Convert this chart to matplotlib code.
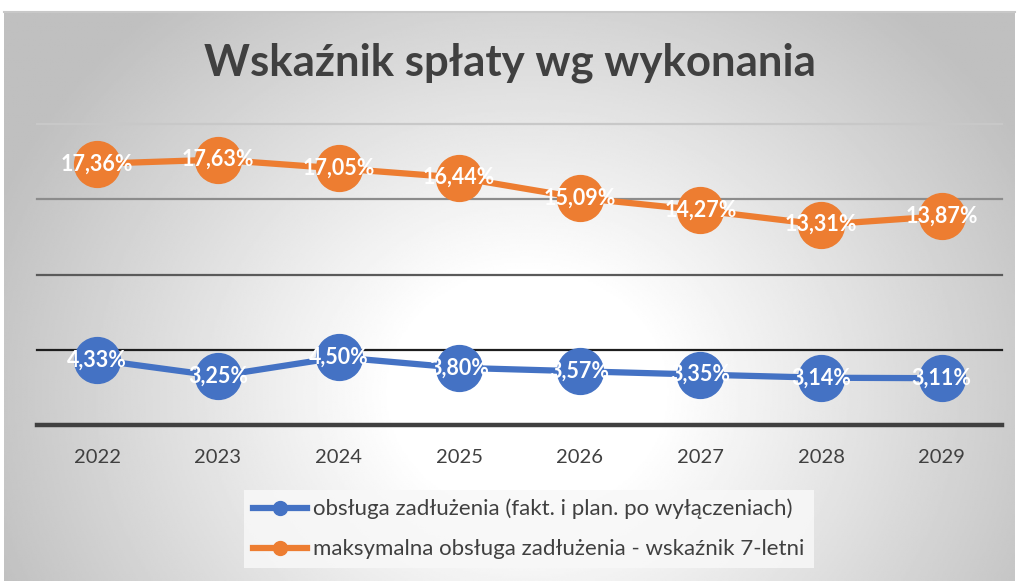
import numpy as np
import matplotlib
matplotlib.use("Agg")
import matplotlib.pyplot as plt

plt.rcParams['font.family'] = ['Lato', 'DejaVu Sans']

years = ['2022', '2023', '2024', '2025', '2026', '2027', '2028', '2029']
obsluga = [4.33, 3.25, 4.50, 3.80, 3.57, 3.35, 3.14, 3.11]
maks = [17.36, 17.63, 17.05, 16.44, 15.09, 14.27, 13.31, 13.87]
names = ['obsługa zadłużenia (fakt. i plan. po wyłączeniach)',
         'maksymalna obsługa zadłużenia - wskaźnik 7-letni']
title = 'Wskaźnik spłaty wg wykonania'

blue = '#4472c4'
orange = '#ed7d31'
text_col = '#404040'

W, H = 1019, 581
fig = plt.figure(figsize=(W / 100, H / 100), dpi=100)

# gradient background
bg = fig.add_axes([0.004, 0, 0.992, 1 - 12 / H], zorder=-10)
yy, xx = np.mgrid[0:300, 0:600]
dx = (xx - 310) / 320
dy = (yy - 200) / 250
d = np.sqrt(dx ** 2 + dy ** 2)
val = 1 - 0.26 * np.clip(d - 0.25, 0, None) / 0.85
val = np.clip(val, 0.75, 1)
bg.imshow(val, cmap='gray', vmin=0, vmax=1, aspect='auto', extent=[0, 1, 0, 1], origin='upper')
bg.axis('off')
fig.add_artist(plt.Line2D([0.004, 0.996], [1 - 12 / H, 1 - 12 / H], color='#c8c8c8', lw=1.5))

ax = fig.add_axes([37 / W, 1 - 425 / H, (1002 - 37) / W, (425 - 124) / H])
ax.patch.set_alpha(0)
x = np.arange(len(years))
ax.set_xlim(-0.5, len(years) - 0.5)
ax.set_ylim(0, 20)

grid_cols = {20: '#c8c8c8', 15: '#8c8c8c', 10: '#5a5a5a', 5: '#1e1e1e'}
for g, c in grid_cols.items():
    ax.axhline(g, color=c, lw=1.6, zorder=1, clip_on=False)
ax.axhline(0, color='#404040', lw=3.2, zorder=1, clip_on=False)

for s in ax.spines.values():
    s.set_visible(False)
ax.set_yticks([])
ax.set_xticks(x)
ax.set_xticklabels(years, fontsize=14.5, color=text_col)
ax.tick_params(axis='x', length=0, pad=17)

l1, = ax.plot(x, obsluga, color=blue, lw=4.5, marker='o', ms=33, zorder=3, label=names[0])
l2, = ax.plot(x, maks, color=orange, lw=4.5, marker='o', ms=33, zorder=3, label=names[1])

for xi, v in zip(x, obsluga):
    ax.text(xi, v, f'{v:.2f}%'.replace('.', ','), ha='center', va='center',
            color='white', fontsize=15.5, fontweight='bold', zorder=4)
for xi, v in zip(x, maks):
    ax.text(xi, v, f'{v:.2f}%'.replace('.', ','), ha='center', va='center',
            color='white', fontsize=15.5, fontweight='bold', zorder=4)

fig.text(0.5, 1 - 63 / H, title, ha='center', va='center', fontsize=31.5,
         fontweight='bold', color=text_col)

h1 = plt.Line2D([], [], color=blue, lw=4.5, marker='o', ms=10)
h2 = plt.Line2D([], [], color=orange, lw=4.5, marker='o', ms=10)
leg = fig.legend([h1, h2], names, loc='center', bbox_to_anchor=(529 / W, 1 - 529 / H),
                 frameon=True, fontsize=16, handlelength=2.4, handletextpad=0.3,
                 labelspacing=0.9, borderpad=0.4, borderaxespad=0, fancybox=False)
leg.get_frame().set_facecolor('#f8f8f8')
leg.get_frame().set_edgecolor('none')
leg.get_frame().set_alpha(0.85)
for t in leg.get_texts():
    t.set_color(text_col)

fig.savefig('out.png', dpi=100)
